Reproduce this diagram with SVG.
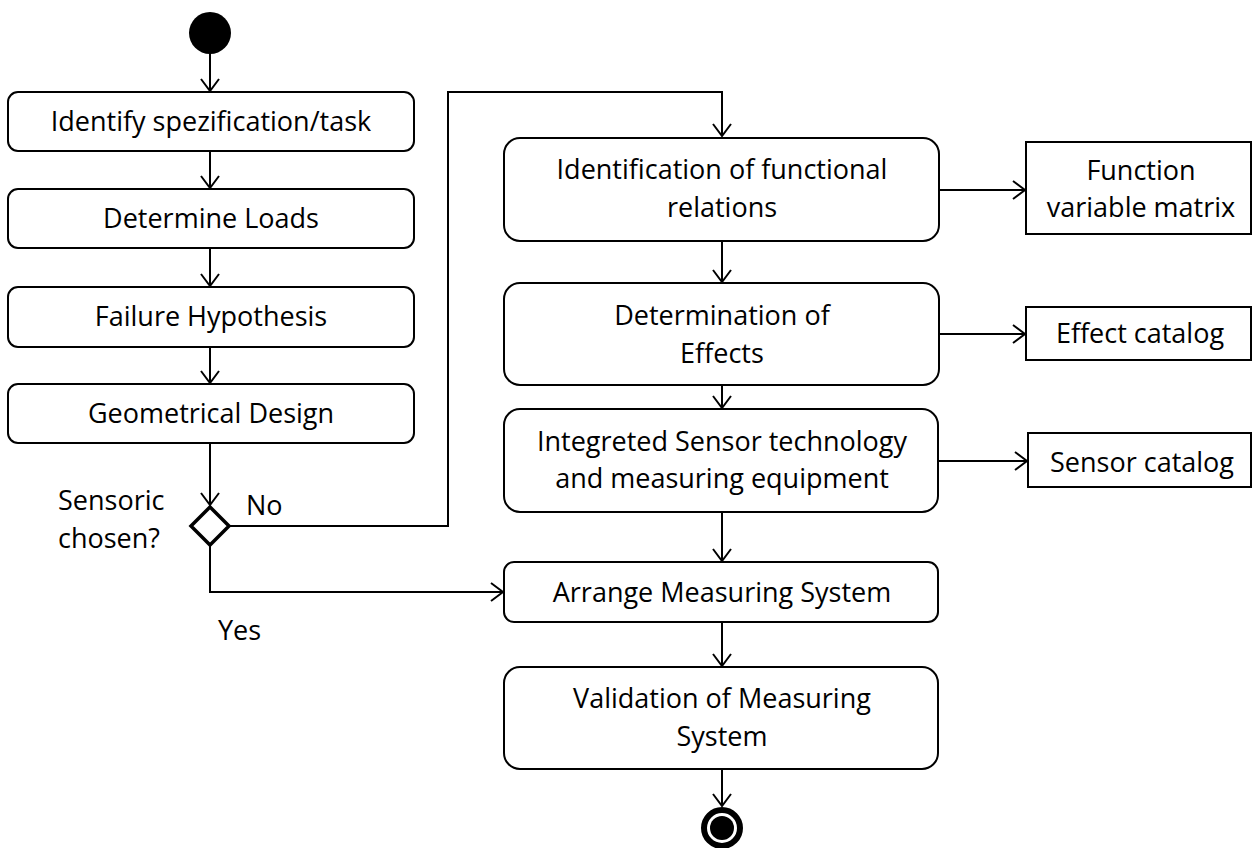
<svg xmlns="http://www.w3.org/2000/svg" width="1253" height="848" viewBox="0 0 1253 848">
<style>
.box{fill:#fff;stroke:#000;stroke-width:2}
.t{font-family:"Open Sans","Liberation Sans",sans-serif;font-size:27px;fill:#000;text-anchor:middle}
.l{font-family:"Open Sans","Liberation Sans",sans-serif;font-size:27px;fill:#000}
.c{fill:none;stroke:#000;stroke-width:2}
</style>
<defs>
<marker id="arr" viewBox="0 0 14 20" refX="13" refY="10" markerWidth="14" markerHeight="20" markerUnits="userSpaceOnUse" orient="auto">
<path d="M1,1 L13,10 L1,19" fill="none" stroke="#000" stroke-width="2"/>
</marker>
</defs>
<rect width="1253" height="848" fill="#fff"/>
<g id="connectors">
<path class="c" d="M210,54 V91" marker-end="url(#arr)"/>
<path class="c" d="M210,151 V188" marker-end="url(#arr)"/>
<path class="c" d="M210,248 V286" marker-end="url(#arr)"/>
<path class="c" d="M210,347 V383" marker-end="url(#arr)"/>
<path class="c" d="M210,443 V505" marker-end="url(#arr)"/>
<path class="c" d="M230,526 H448 V92 H722 V136" marker-end="url(#arr)"/>
<path class="c" d="M210,546 V592 H503" marker-end="url(#arr)"/>
<path class="c" d="M722,241 V282" marker-end="url(#arr)"/>
<path class="c" d="M722,385 V408" marker-end="url(#arr)"/>
<path class="c" d="M722,512 V561" marker-end="url(#arr)"/>
<path class="c" d="M722,622 V666" marker-end="url(#arr)"/>
<path class="c" d="M722,769 V806" marker-end="url(#arr)"/>
<path class="c" d="M939,190 H1025" marker-end="url(#arr)"/>
<path class="c" d="M939,334 H1025" marker-end="url(#arr)"/>
<path class="c" d="M939,461 H1027" marker-end="url(#arr)"/>
</g>
<g id="start"><circle cx="210" cy="33" r="21" fill="#000"/></g>
<g id="n1"><rect class="box" x="8" y="92" width="406" height="59" rx="10"/><text class="t" x="211" y="131">Identify spezification/task</text></g>
<g id="n2"><rect class="box" x="8" y="189" width="406" height="59" rx="10"/><text class="t" x="211" y="228">Determine Loads</text></g>
<g id="n3"><rect class="box" x="8" y="287" width="406" height="60" rx="10"/><text class="t" x="211" y="326">Failure Hypothesis</text></g>
<g id="n4"><rect class="box" x="8" y="384" width="406" height="59" rx="10"/><text class="t" x="211" y="423">Geometrical Design</text></g>
<g id="decision"><path d="M210,507 L229,526 L210,545 L191,526 Z" fill="#fff" stroke="#000" stroke-width="3.5"/>
<text class="l" x="58" y="510">Sensoric</text><text class="l" x="58" y="548">chosen?</text></g>
<g id="lblNo"><text class="l" x="246" y="515">No</text></g>
<g id="lblYes"><text class="l" x="218" y="640">Yes</text></g>
<g id="r1"><rect class="box" x="504" y="138" width="435" height="103" rx="16"/><text class="t" x="722" y="179">Identification of functional</text><text class="t" x="722" y="217">relations</text></g>
<g id="r2"><rect class="box" x="504" y="283" width="435" height="102" rx="16"/><text class="t" x="722" y="325">Determination of</text><text class="t" x="722" y="363">Effects</text></g>
<g id="r3"><rect class="box" x="504" y="409" width="434" height="103" rx="16"/><text class="t" x="722" y="451">Integreted Sensor technology</text><text class="t" x="722" y="488">and measuring equipment</text></g>
<g id="r4"><rect class="box" x="504" y="562" width="434" height="60" rx="10"/><text class="t" x="722" y="602">Arrange Measuring System</text></g>
<g id="r5"><rect class="box" x="504" y="667" width="434" height="102" rx="16"/><text class="t" x="722" y="708">Validation of Measuring</text><text class="t" x="722" y="746">System</text></g>
<g id="c1"><rect class="box" x="1026" y="142" width="225" height="92"/><text class="t" x="1141" y="180">Function</text><text class="t" x="1141" y="217">variable matrix</text></g>
<g id="c2"><rect class="box" x="1026" y="307" width="225" height="53"/><text class="t" x="1140" y="343">Effect catalog</text></g>
<g id="c3"><rect class="box" x="1028" y="433" width="223" height="54"/><text class="t" x="1142" y="472">Sensor catalog</text></g>
<g id="end"><circle cx="722" cy="828" r="18" fill="#fff" stroke="#000" stroke-width="6"/><circle cx="722" cy="828" r="12" fill="#000"/></g>
</svg>
